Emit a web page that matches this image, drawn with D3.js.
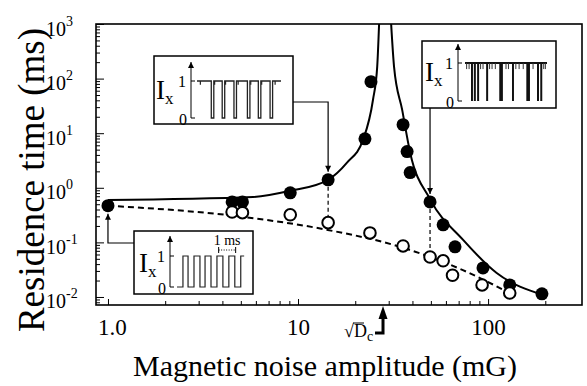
<!DOCTYPE html>
<html>
<head>
<meta charset="utf-8">
<script src="https://cdn.jsdelivr.net/npm/d3@7"></script>
<style>
  body { margin: 0; background: #fff; }
  svg { display: block; font-family: "Liberation Serif", "Times New Roman", serif; }
</style>
</head>
<body>
<div id="chart"></div>
<script>
// measured points (mG, ms)
const filledX = [1.0, 4.5, 5.1, 9.1, 14.4, 22.5, 24.2, 35.7, 37.5, 38.9, 49.5, 58, 67, 94, 130, 192];
const filledY = [0.47, 0.55, 0.55, 0.81, 1.40, 7.9, 88, 14.3, 4.6, 1.9, 0.55, 0.21, 0.083, 0.034, 0.0166, 0.0114];
const openX = [4.5, 5.1, 9.1, 14.4, 23.9, 35.7, 49.5, 58, 65, 93, 130];
const openY = [0.36, 0.35, 0.32, 0.23, 0.149, 0.086, 0.054, 0.046, 0.025, 0.0166, 0.0118];

// fitted curves
const fitLeftX = [1.0, 5.8, 9.1, 14.4, 18.1, 22.0, 24.8, 26.1, 26.7];
const fitLeftY = [0.60, 0.68, 0.88, 1.40, 2.88, 7.6, 41, 166, 1000];
const fitRightX = [30.9, 32.0, 35.3, 38.9, 49.5, 73.9, 111, 195];
const fitRightY = [1000, 166, 27, 4.4, 0.62, 0.111, 0.0275, 0.0109];
const dashX = [1.0, 5.1, 14.2, 34.4, 73.7, 130];
const dashY = [0.47, 0.294, 0.17, 0.083, 0.031, 0.0118];

const sqrtDc = 28;

// axis ticks
const yMajor = [1e-2, 1e-1, 1e0, 1e1, 1e2, 1e3];
const yExp = ['-2', '-1', '0', '1', '2', '3'];
const xMajor = [1, 10, 100];
const xLabels = ['1.0', '10', '100'];

// inset traces
const inset1Dips = [1.7, 3.0, 4.4, 6.0, 7.3, 8.7];
const inset1Glitch = [0.4, 2.1, 3.4, 4.9, 6.4, 7.7, 9.3];
const inset2Dips = [0.85, 1.2, 1.6, 2.7, 4.3, 4.5, 5.85, 7.6, 7.8, 8.9, 9.3];
const inset2Noise = [0.2, 0.5, 1.9, 2.2, 3.0, 3.3, 3.7, 5.0, 5.3, 6.2, 6.6, 7.1, 8.3, 9.6, 9.8];
const inset3High = [[0.35, 0.65], [1.0, 1.35], [1.65, 2.0], [2.35, 2.7], [3.05, 3.4], [3.75, 3.95]];

const W = 587, H = 386;
const plot = { left: 96, right: 582, top: 24, bottom: 305 };

const svg = d3.select('#chart').append('svg')
  .attr('width', W)
  .attr('height', H);

const defs = svg.append('defs');
defs.append('clipPath').attr('id', 'clip')
  .append('rect')
  .attr('x', plot.left).attr('y', plot.top)
  .attr('width', plot.right - plot.left).attr('height', plot.bottom - plot.top);
defs.append('marker')
  .attr('id', 'arrow')
  .attr('viewBox', '0 0 10 10')
  .attr('refX', 10).attr('refY', 5)
  .attr('markerWidth', 8).attr('markerHeight', 6)
  .attr('markerUnits', 'userSpaceOnUse')
  .attr('orient', 'auto')
  .append('path').attr('d', 'M0,0 L10,5 L0,10 z').attr('fill', '#000');

const x = d3.scaleLog().domain([0.865, 312]).range([plot.left, plot.right]);
const y = d3.scaleLog().domain([0.00713, 1000]).range([plot.bottom, plot.top]);

// minor ticks
const yMinor = [];
for (let k = -3; k <= 2; k++) for (let m = 2; m <= 9; m++) {
  const v = m * Math.pow(10, k);
  if (v > y.domain()[0] && v < 1000) yMinor.push(v);
}
const xMinor = [];
for (let k = 0; k <= 2; k++) for (let m = 2; m <= 9; m++) {
  const v = m * Math.pow(10, k);
  if (v < 250) xMinor.push(v);
}

// y axis
svg.append('g')
  .attr('transform', 'translate(' + plot.left + ',0)')
  .call(d3.axisLeft(y).tickValues(yMinor).tickSize(-4).tickFormat(''))
  .call(g => g.select('.domain').remove());

const yAx = svg.append('g')
  .attr('transform', 'translate(' + plot.left + ',0)')
  .call(d3.axisLeft(y).tickValues(yMajor).tickSize(-8).tickSizeOuter(0))
  .call(g => g.select('.domain').remove());

yAx.selectAll('.tick text')
  .attr('x', -50).attr('dy', null).attr('y', 11)
  .attr('text-anchor', 'start')
  .attr('font-family', '"Liberation Serif", serif')
  .attr('font-size', 20)
  .text(null)
  .each(function (d, i) {
    const t = d3.select(this);
    t.append('tspan').text('10');
    t.append('tspan').attr('dy', -10).attr('font-size', 14).text(yExp[i]);
  });

// x axis
svg.append('g')
  .attr('transform', 'translate(0,' + plot.bottom + ')')
  .call(d3.axisBottom(x).tickValues(xMinor).tickSize(-4).tickFormat(''))
  .call(g => g.select('.domain').remove());

svg.append('g')
  .attr('transform', 'translate(0,' + plot.bottom + ')')
  .call(d3.axisBottom(x).tickValues(xMajor).tickSize(-6).tickPadding(14)
    .tickFormat((d, i) => xLabels[i]))
  .call(g => g.select('.domain').remove())
  .selectAll('.tick text')
  .attr('dx', (d, i) => i === 0 ? 4 : 0)
  .attr('font-family', '"Liberation Serif", serif')
  .attr('font-size', 23);

svg.selectAll('.tick line').attr('stroke', '#000').attr('stroke-width', 1);
svg.selectAll('.tick text').attr('fill', '#000');

// frame
svg.append('rect')
  .attr('x', plot.left).attr('y', plot.top)
  .attr('width', plot.right - plot.left).attr('height', plot.bottom - plot.top)
  .attr('fill', 'none').attr('stroke', '#000').attr('stroke-width', 1.6);

// titles
svg.append('text')
  .attr('x', 325).attr('y', 376)
  .attr('text-anchor', 'middle')
  .attr('font-size', 30)
  .text('Magnetic noise amplitude (mG)');

svg.append('text')
  .attr('transform', 'translate(44,180) rotate(-90)')
  .attr('text-anchor', 'middle')
  .attr('font-size', 37)
  .text('Residence time (ms)');

// curves
const line = d3.line()
  .x(d => x(d[0]))
  .y(d => y(d[1]))
  .curve(d3.curveMonotoneX);

const curves = svg.append('g').attr('clip-path', 'url(#clip)');
curves.append('path')
  .attr('d', line(fitLeftX.map((v, i) => [v, fitLeftY[i]])))
  .attr('fill', 'none').attr('stroke', '#000').attr('stroke-width', 2);
curves.append('path')
  .attr('d', line(fitRightX.map((v, i) => [v, fitRightY[i]])))
  .attr('fill', 'none').attr('stroke', '#000').attr('stroke-width', 2);
curves.append('path')
  .attr('d', line(dashX.map((v, i) => [v, dashY[i]])))
  .attr('fill', 'none').attr('stroke', '#000').attr('stroke-width', 2)
  .attr('stroke-dasharray', '6,4');

// vertical dashed links between paired points
const links = [14.4, 49.5];
links.forEach(xv => {
  const fi = filledX.indexOf(xv), oi = openX.indexOf(xv);
  svg.append('line')
    .attr('x1', x(xv)).attr('x2', x(xv))
    .attr('y1', y(filledY[fi])).attr('y2', y(openY[oi]))
    .attr('stroke', '#000').attr('stroke-width', 1.2)
    .attr('stroke-dasharray', '4,3');
});

// points
svg.append('g').selectAll('circle')
  .data(filledX.map((v, i) => [v, filledY[i]]))
  .join('circle')
  .attr('cx', d => x(d[0])).attr('cy', d => y(d[1]))
  .attr('r', 6.5).attr('fill', '#000');

svg.append('g').selectAll('circle')
  .data(openX.map((v, i) => [v, openY[i]]))
  .join('circle')
  .attr('cx', d => x(d[0])).attr('cy', d => y(d[1]))
  .attr('r', 5.8).attr('fill', '#fff').attr('stroke', '#000').attr('stroke-width', 2);

// insets
function inset(box) {
  const g = svg.append('g');
  g.append('rect')
    .attr('x', box.x0).attr('y', box.y0)
    .attr('width', box.x1 - box.x0).attr('height', box.y1 - box.y0)
    .attr('fill', '#fff').attr('stroke', '#000').attr('stroke-width', 1.5);
  // small axis
  g.append('line')
    .attr('x1', box.ax).attr('x2', box.ax)
    .attr('y1', box.lv0).attr('y2', box.atop)
    .attr('stroke', '#000').attr('stroke-width', 1)
    .attr('marker-end', 'url(#arrow)');
  [box.lv0, box.lv1].forEach(yy => g.append('line')
    .attr('x1', box.ax).attr('x2', box.ax + 4)
    .attr('y1', yy).attr('y2', yy)
    .attr('stroke', '#000').attr('stroke-width', 1));
  const t = g.append('text').attr('x', box.tx).attr('y', box.ty).attr('font-size', 27);
  t.append('tspan').text('I');
  t.append('tspan').attr('dy', 5).attr('font-size', 17).text('x');
  g.append('text').attr('x', box.ax - 5).attr('y', box.lv1 + 6)
    .attr('text-anchor', 'end').attr('font-size', 16).text('1');
  g.append('text').attr('x', box.ax - 4).attr('y', box.lv0 + 7)
    .attr('text-anchor', 'end').attr('font-size', 16).text('0');
  return g;
}

const traceLine = d3.line().x(d => d[0]).y(d => d[1]);

// inset 1 (near the filled point at 14.4 mG)
const b1 = { x0: 154, x1: 293, y0: 56, y1: 124, ax: 191, atop: 62, lv0: 118, lv1: 81, tx: 156, ty: 99 };
const g1 = inset(b1);
const t1 = d3.scaleLinear().domain([0, 10]).range([197, 281]);
const l1 = d3.scaleLinear().domain([0, 1]).range([b1.lv0, b1.lv1]);
let p1 = [[t1(0), l1(1)]];
inset1Dips.forEach(d => {
  p1.push([t1(d), l1(1)], [t1(d), l1(0)], [t1(d + 0.3), l1(0)], [t1(d + 0.3), l1(1)]);
});
p1.push([t1(10), l1(1)]);
g1.append('path').attr('d', traceLine(p1)).attr('fill', 'none').attr('stroke', '#222').attr('stroke-width', 1.3);
inset1Glitch.forEach(d => g1.append('line')
  .attr('x1', t1(d)).attr('x2', t1(d)).attr('y1', l1(1)).attr('y2', l1(0.9))
  .attr('stroke', '#222').attr('stroke-width', 1.2));

// inset 2 (near the filled point at 49.5 mG)
const b2 = { x0: 422, x1: 556, y0: 41, y1: 108, ax: 458, atop: 44, lv0: 101, lv1: 63, tx: 425, ty: 81 };
const g2 = inset(b2);
const t2 = d3.scaleLinear().domain([0, 10]).range([465, 547]);
const l2 = d3.scaleLinear().domain([0, 1]).range([b2.lv0, b2.lv1]);
g2.append('line').attr('x1', t2(0)).attr('x2', t2(10)).attr('y1', l2(1)).attr('y2', l2(1))
  .attr('stroke', '#111').attr('stroke-width', 2.2);
inset2Dips.forEach(d => g2.append('line')
  .attr('x1', t2(d)).attr('x2', t2(d)).attr('y1', l2(1)).attr('y2', l2(0))
  .attr('stroke', '#111').attr('stroke-width', 2));
inset2Noise.forEach(d => g2.append('line')
  .attr('x1', t2(d)).attr('x2', t2(d)).attr('y1', l2(1)).attr('y2', l2(0.84))
  .attr('stroke', '#333').attr('stroke-width', 1));

// inset 3 (near the point at 1.0 mG), time in ms
const b3 = { x0: 134, x1: 253, y0: 231, y1: 294, ax: 170, atop: 236, lv0: 287, lv1: 256, tx: 139, ty: 272 };
const g3 = inset(b3);
const t3 = d3.scaleLinear().domain([0, 1]).range([177, 194]);
const l3 = d3.scaleLinear().domain([0, 1]).range([b3.lv0, b3.lv1]);
let p3 = [[t3(0), l3(0)]];
inset3High.forEach(([a, b]) => {
  p3.push([t3(a), l3(0)], [t3(a), l3(1)], [t3(b), l3(1)]);
  if (b < 3.9) p3.push([t3(b), l3(0)]);
});
g3.append('path').attr('d', traceLine(p3)).attr('fill', 'none').attr('stroke', '#222').attr('stroke-width', 1.2);
// 1 ms scale bar
const sb = [2.45, 3.45];
g3.append('line').attr('x1', t3(sb[0])).attr('x2', t3(sb[1])).attr('y1', 250).attr('y2', 250)
  .attr('stroke', '#000').attr('stroke-width', 1).attr('stroke-dasharray', '1,1.5');
sb.forEach(s => g3.append('line').attr('x1', t3(s)).attr('x2', t3(s)).attr('y1', 247).attr('y2', 253)
  .attr('stroke', '#000').attr('stroke-width', 1));
g3.append('text').attr('x', t3((sb[0] + sb[1]) / 2)).attr('y', 245)
  .attr('text-anchor', 'middle').attr('font-size', 14).text('1 ms');

// arrows from insets to points
const arrowStyle = sel => sel.attr('fill', 'none').attr('stroke', '#000').attr('stroke-width', 1.2)
  .attr('marker-end', 'url(#arrow)');
const fp = v => [x(v), y(filledY[filledX.indexOf(v)])];

let a = fp(14.4);
svg.append('path').attr('d', traceLine([[b1.x1, 102], [a[0], 102], [a[0], a[1] - 8]])).call(arrowStyle);
a = fp(49.5);
svg.append('path').attr('d', traceLine([[x(49.5), b2.y1], [a[0], a[1] - 8]])).call(arrowStyle);
a = fp(1.0);
svg.append('path').attr('d', traceLine([[b3.x0, 243], [a[0], 243], [a[0], a[1] + 8]])).call(arrowStyle);

// sqrt(Dc) marker
const xd = x(sqrtDc);
svg.append('path')
  .attr('d', traceLine([[xd - 8, 333], [xd, 333], [xd, 318]]))
  .attr('fill', 'none').attr('stroke', '#000').attr('stroke-width', 3);
svg.append('path')
  .attr('d', traceLine([[xd - 4.5, 319], [xd, 306], [xd + 4.5, 319]]) + 'Z')
  .attr('fill', '#000');
const dc = svg.append('text').attr('x', xd - 39).attr('y', 337).attr('font-size', 18);
dc.append('tspan').text('√');
dc.append('tspan').text('D');
dc.append('tspan').attr('dy', 4).attr('font-size', 14).text('c');
svg.append('line').attr('x1', xd - 30).attr('x2', xd - 19).attr('y1', 323).attr('y2', 323)
  .attr('stroke', '#000').attr('stroke-width', 1);
</script>
</body>
</html>
